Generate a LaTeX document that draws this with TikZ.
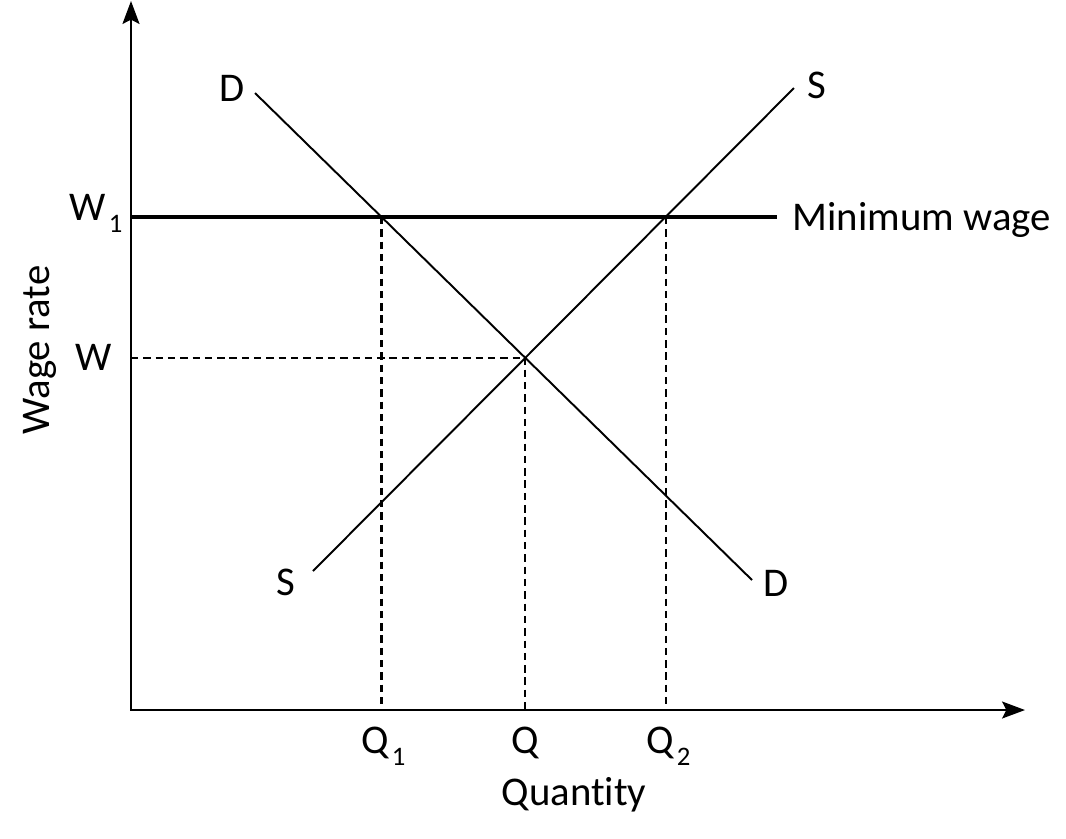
\documentclass[tikz,border=0pt]{standalone}
\usepackage{fontspec}
\setmainfont[Ligatures=NoCommon]{Carlito}
\usetikzlibrary{arrows.meta, calc}

\newcommand{\lowsub}[1]{\kern0.8pt\raisebox{-3.6pt}{\fontsize{7.6}{8}\selectfont #1}}

\begin{document}
\begin{tikzpicture}[x=0.01cm, y=-0.01cm,
    axis/.style={line width=0.7pt, {Stealth[length=6.5pt, width=4.8pt, inset=1.2pt]}-{Stealth[length=6.5pt, width=4.8pt, inset=1.2pt]}},
    curve/.style={line width=0.55pt},
    guide/.style={line width=0.6pt, dash pattern=on 2.1pt off 1.4pt},
    floor/.style={line width=1.2pt},
    lbl/.style={inner sep=0pt, font=\fontsize{11.6}{13}\selectfont}]
    \useasboundingbox (0,0) rectangle (1066,838);

    % axes
    \coordinate (O) at (131,710);
    \coordinate (ytop) at (131,1);
    \coordinate (xend) at (1025,710);
    \draw[axis] (ytop) -- (O) -- (xend);

    % demand and supply
    \coordinate (D1) at (255,93);
    \coordinate (D2) at (752,580);
    \coordinate (S1) at (313,571);
    \coordinate (S2) at (794,88);
    \draw[curve] (D1) -- (D2);
    \draw[curve] (S1) -- (S2);
    \coordinate (E) at (intersection of D1--D2 and S1--S2);

    % minimum wage
    \coordinate (W1) at (131,217);
    \coordinate (MW) at (777,217);
    \coordinate (A) at (intersection of D1--D2 and W1--MW);
    \coordinate (B) at (intersection of S1--S2 and W1--MW);

    % dashed guides
    \draw[guide] (E -| O) -- (E) -- (E |- O);
    \draw[guide] (A) -- (A |- O);
    \draw[guide] (B) -- (B |- O);
    \draw[floor] (W1) -- (MW);

    % labels
    \node[lbl, anchor=base] (dtop) at (232,101) {D};
    \node[lbl, anchor=base] (stop) at (817,98) {S};
    \node[lbl, anchor=base] (sbot) at (286,595) {S};
    \node[lbl, anchor=base] (dbot) at (776,596) {D};
    \node[lbl, anchor=base west] (mwlab) at (792,230) {Minimum wage};
    \node[lbl, anchor=base west] (w1lab) at (69,220) {W\lowsub{1}};
    \node[lbl, anchor=base] (wlab) at (94,370) {W};
    \node[lbl, anchor=base west] (q1lab) at (361,753) {Q\lowsub{1}};
    \node[lbl, anchor=base] (qlab) at (525,753) {Q};
    \node[lbl, anchor=base west] (q2lab) at (646,753) {Q\lowsub{2}};
    \node[lbl, anchor=base] (xlab) at (574,805) {Quantity};
    \node[lbl, anchor=base, rotate=90] (ylab) at (50,350) {Wage rate};
\end{tikzpicture}
\end{document}
